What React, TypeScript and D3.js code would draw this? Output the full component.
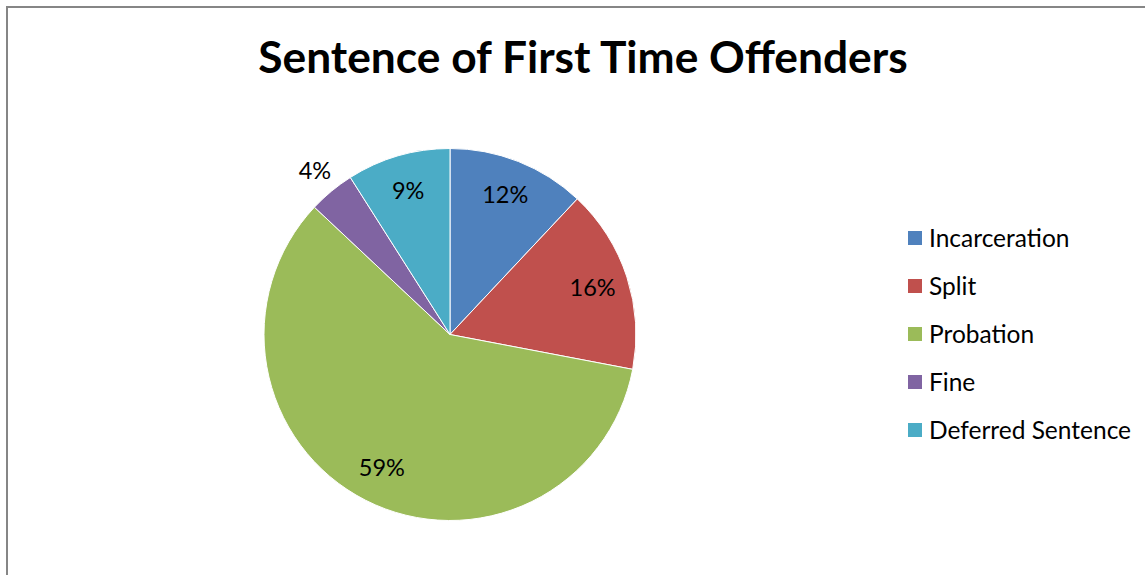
import React from "react";
import * as d3 from "d3";

const categories = ["Incarceration", "Split", "Probation", "Fine", "Deferred Sentence"];
const values = [12, 16, 59, 4, 9];
const colors = ["#4F81BD", "#C0504D", "#9BBB59", "#8064A2", "#4BACC6"];
const title = "Sentence of First Time Offenders";

export default function App() {
  const W = 1145, H = 575;
  const cx = 450, cy = 334.5, r = 186;
  const pie = d3.pie<number>().sort(null).value((d) => d);
  const arcs = pie(values);
  const arcGen = d3.arc<d3.PieArcDatum<number>>().innerRadius(0).outerRadius(r);
  const total = d3.sum(values);
  const font = "Lato, 'Open Sans', sans-serif";

  const legendX = 908, legendY0 = 238, legendStep = 48;

  return (
    <svg width={W} height={H} style={{ position: "absolute", left: 0, top: 0 }}>
      <rect x={0} y={0} width={W} height={H} fill="#fff" />
      <rect x={7} y={7} width={W + 20} height={H + 20} fill="none" stroke="#868686" strokeWidth={2} />
      <text x={583} y={73} textAnchor="middle" fontFamily={font} fontWeight="bold" fontSize={44.3} fill="#000">
        {title}
      </text>
      <g transform={`translate(${cx},${cy})`}>
        {arcs.map((a, i) => (
          <path key={i} d={arcGen(a) || ""} fill={colors[i]} stroke="#fff" strokeWidth={1} />
        ))}
        {arcs.map((a, i) => {
          const mid = (a.startAngle + a.endAngle) / 2;
          const outside = values[i] / total < 0.06;
          const lr = outside ? 212 : 150;
          const x = Math.sin(mid) * lr;
          const y = -Math.cos(mid) * lr;
          const pct = Math.round((values[i] / total) * 100) + "%";
          return (
            <text key={"l" + i} x={x} y={y} dy="0.35em" textAnchor="middle" fontFamily={font} fontSize={23.5} fill="#000">
              {pct}
            </text>
          );
        })}
      </g>
      {categories.map((c, i) => (
        <g key={c} transform={`translate(${legendX},${legendY0 + i * legendStep})`}>
          <rect x={0} y={-7} width={14} height={14} fill={colors[i]} />
          <text x={21} y={0} dy="0.35em" fontFamily={font} fontSize={24.5} fill="#000">
            {c}
          </text>
        </g>
      ))}
    </svg>
  );
}
